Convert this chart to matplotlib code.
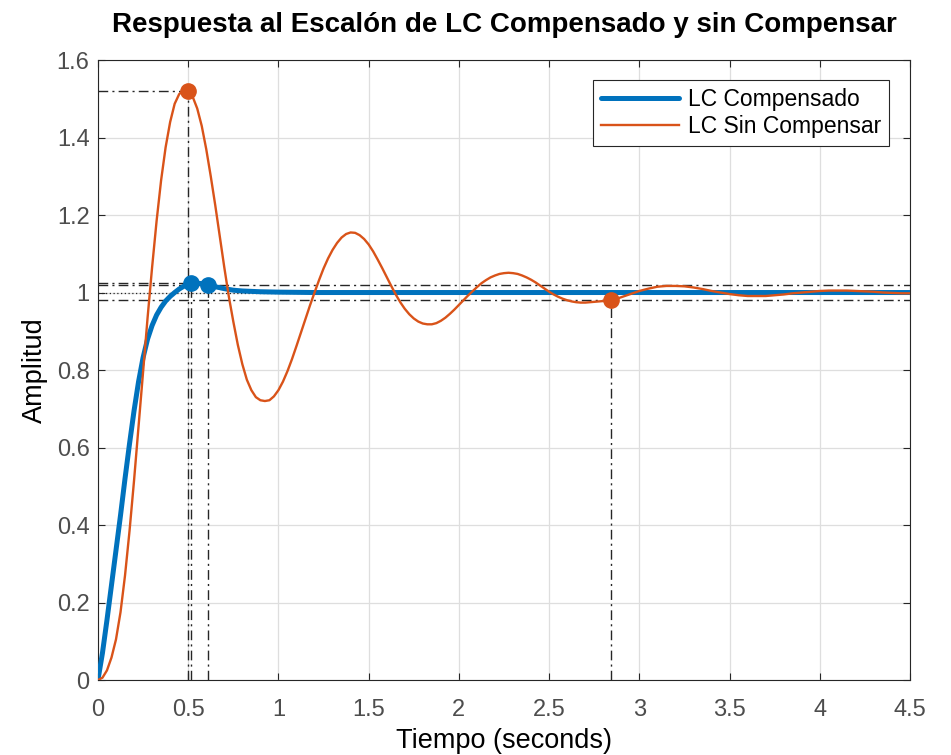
import matplotlib
matplotlib.use("Agg")
import matplotlib.pyplot as plt

plt.rcParams['font.family'] = ['Liberation Sans', 'DejaVu Sans']

# ---- data ----
t_comp = [0, 0.025, 0.05, 0.075, 0.1, 0.125, 0.15, 0.175, 0.2, 0.225, 0.25, 0.275,
          0.3, 0.325, 0.35, 0.375, 0.4, 0.425, 0.45, 0.475, 0.5, 0.515, 0.55,
          0.575, 0.6, 0.61, 0.625, 0.65, 0.7, 0.75, 0.8, 0.9, 1.0, 1.2, 1.5,
          2.0, 3.0, 4.0, 4.5]
y_comp = [0, 0.07, 0.155, 0.245, 0.335, 0.425, 0.52, 0.61, 0.695, 0.77, 0.832,
          0.88, 0.915, 0.942, 0.962, 0.978, 0.99, 1.0, 1.009, 1.016, 1.021, 1.025,
          1.024, 1.023, 1.021, 1.02, 1.018, 1.015, 1.01, 1.006, 1.004, 1.002,
          1.001, 1.0, 1.0, 1.0, 1.0, 1.0, 1.0]

t_sin = [0, 0.025, 0.05, 0.075, 0.1, 0.125, 0.15, 0.175, 0.2, 0.225, 0.25, 0.275,
         0.3, 0.325, 0.35, 0.375, 0.4, 0.425, 0.45, 0.475, 0.5, 0.525, 0.55,
         0.575, 0.6, 0.625, 0.65, 0.675, 0.7, 0.725, 0.75, 0.775, 0.8, 0.825,
         0.85, 0.875, 0.9, 0.925, 0.95, 0.975, 1.0, 1.025, 1.05, 1.075, 1.1,
         1.125, 1.15, 1.175, 1.2, 1.225, 1.25, 1.275, 1.3, 1.325, 1.35, 1.375,
         1.4, 1.425, 1.45, 1.475, 1.5, 1.525, 1.55, 1.575, 1.6, 1.625, 1.65,
         1.675, 1.7, 1.725, 1.75, 1.775, 1.8, 1.825, 1.85, 1.875, 1.9, 1.925,
         1.95, 1.975, 2.0, 2.025, 2.05, 2.075, 2.1, 2.125, 2.15, 2.175, 2.2,
         2.225, 2.25, 2.275, 2.3, 2.325, 2.35, 2.375, 2.4, 2.425, 2.45, 2.475,
         2.5, 2.525, 2.55, 2.575, 2.6, 2.625, 2.65, 2.675, 2.7, 2.725, 2.75,
         2.775, 2.8, 2.825, 2.85, 2.875, 2.9, 2.925, 2.95, 2.975, 3.0, 3.05,
         3.1, 3.15, 3.2, 3.25, 3.3, 3.35, 3.4, 3.45, 3.5, 3.55, 3.6, 3.65, 3.7,
         3.75, 3.8, 3.85, 3.9, 3.95, 4.0, 4.05, 4.1, 4.15, 4.2, 4.25, 4.3, 4.35,
         4.4, 4.45, 4.5]
y_sin = [0, 0.006, 0.025, 0.058, 0.105, 0.175, 0.27, 0.385, 0.515, 0.655, 0.795,
         0.935, 1.065, 1.185, 1.29, 1.375, 1.44, 1.487, 1.512, 1.522, 1.52,
         1.505, 1.475, 1.43, 1.37, 1.30, 1.225, 1.145, 1.065, 0.99, 0.925,
         0.865, 0.815, 0.775, 0.748, 0.73, 0.722, 0.72, 0.722, 0.732, 0.748,
         0.77, 0.797, 0.828, 0.862, 0.897, 0.932, 0.967, 1.0, 1.032, 1.062,
         1.088, 1.11, 1.128, 1.142, 1.151, 1.155, 1.154, 1.148, 1.138, 1.124,
         1.106, 1.085, 1.063, 1.04, 1.017, 0.995, 0.975, 0.958, 0.944, 0.933,
         0.925, 0.92, 0.918, 0.918, 0.921, 0.927, 0.935, 0.945, 0.956, 0.968,
         0.98, 0.992, 1.003, 1.014, 1.024, 1.032, 1.039, 1.044, 1.048, 1.05,
         1.051, 1.05, 1.048, 1.044, 1.039, 1.033, 1.026, 1.018, 1.01, 1.002,
         0.995, 0.989, 0.984, 0.98, 0.977, 0.975, 0.974, 0.974, 0.975, 0.976,
         0.977, 0.978, 0.979, 0.981, 0.984, 0.988, 0.992, 0.996, 1.0, 1.004,
         1.01, 1.015, 1.017, 1.017, 1.016, 1.013, 1.009, 1.004, 1.0, 0.996,
         0.993, 0.991, 0.991, 0.991, 0.993, 0.995, 0.998, 1.0, 1.002, 1.004,
         1.005, 1.005, 1.005, 1.004, 1.003, 1.002, 1.0, 0.999, 0.998, 0.998]

peak_comp = (0.515, 1.025)
settle_comp = (0.61, 1.02)
peak_sin = (0.50, 1.52)
settle_sin = (2.844, 0.98)
final_value = 1.0
band = (0.98, 1.02)

labels = ['LC Compensado', 'LC Sin Compensar']
x_ticks = [0, 0.5, 1, 1.5, 2, 2.5, 3, 3.5, 4, 4.5]
x_tick_labels = ['0', '0.5', '1', '1.5', '2', '2.5', '3', '3.5', '4', '4.5']
y_ticks = [0, 0.2, 0.4, 0.6, 0.8, 1, 1.2, 1.4, 1.6]
y_tick_labels = ['0', '0.2', '0.4', '0.6', '0.8', '1', '1.2', '1.4', '1.6']

blue = '#0072BD'
orange = '#D95319'
dark = '#262626'
dashdot = (0, (7, 3, 1.5, 3))

fig = plt.figure(figsize=(9.51, 7.55), dpi=100)
ax = fig.add_axes([0.103, 0.0993, 0.854, 0.8212])

ax.set_xlim(0, 4.5)
ax.set_ylim(0, 1.6)

# characteristic lines
ax.axhline(final_value, color=dark, lw=0.9, ls=(0, (1, 2)), zorder=1)
for b in band:
    ax.axhline(b, color=dark, lw=1.0, ls=dashdot, zorder=1)
for (tp, yp) in (peak_comp, peak_sin):
    ax.plot([0, tp], [yp, yp], color=dark, lw=1.0, ls=dashdot, zorder=1)
    ax.plot([tp, tp], [0, yp], color=dark, lw=1.0, ls=dashdot, zorder=1)
for (ts, ys) in (settle_comp, settle_sin):
    ax.plot([ts, ts], [0, ys], color=dark, lw=1.0, ls=dashdot, zorder=1)

l1, = ax.plot(t_comp, y_comp, color=blue, lw=3.6, zorder=3,
              solid_capstyle='round', solid_joinstyle='round')
l2, = ax.plot(t_sin, y_sin, color=orange, lw=1.7, zorder=4,
              solid_joinstyle='round')

ax.plot(*peak_comp, 'o', color=blue, ms=11, zorder=5)
ax.plot(*settle_comp, 'o', color=blue, ms=11, zorder=5)
ax.plot(*peak_sin, 'o', color=orange, ms=11, zorder=5)
ax.plot(*settle_sin, 'o', color=orange, ms=11, zorder=5)

ax.set_xticks(x_ticks)
ax.set_xticklabels(x_tick_labels)
ax.set_yticks(y_ticks)
ax.set_yticklabels(y_tick_labels)
ax.tick_params(direction='in', length=5, width=0.8, colors='#262626',
               labelcolor='#4d4d4d', labelsize=17, top=True, right=True,
               pad=6)
ax.tick_params(axis='x', pad=14)
ax.grid(True, color='#dedede', lw=0.9)
ax.set_axisbelow(True)
for s in ax.spines.values():
    s.set_color('#262626')
    s.set_linewidth(0.8)

ax.set_xlabel('Tiempo (seconds)', fontsize=19.5, color='black', labelpad=5)
ax.set_ylabel('Amplitud', fontsize=19.5, color='black', labelpad=6)
ax.set_title('Respuesta al Escalón de LC Compensado y sin Compensar',
             fontsize=20, fontweight='bold', pad=20)

leg = ax.legend([l1, l2], labels, loc='upper right', fontsize=16.5,
                bbox_to_anchor=(0.974, 0.968), frameon=True, fancybox=False,
                edgecolor='#262626', framealpha=1, handlelength=3.4,
                borderpad=0.35, labelspacing=0.2, handletextpad=0.4,
                borderaxespad=0)
leg.get_frame().set_linewidth(0.8)

fig.savefig('out.png', dpi=100)
